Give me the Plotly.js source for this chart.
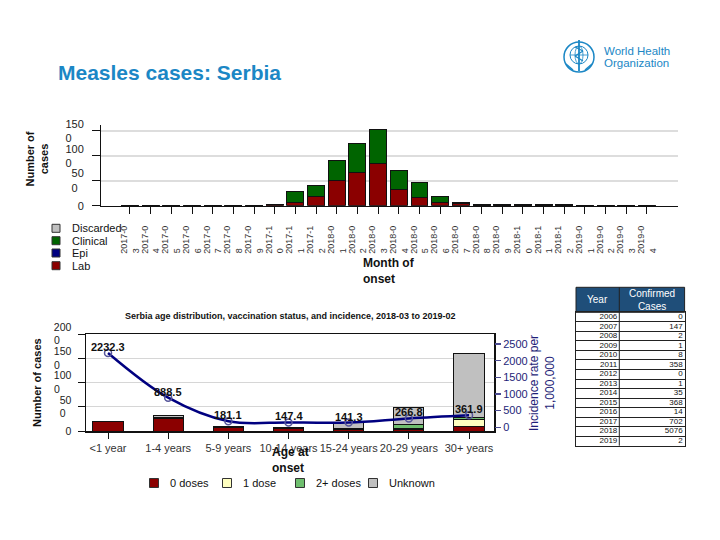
<!DOCTYPE html>
<html>
<head>
<meta charset="utf-8">
<script src="https://cdn.plot.ly/plotly-3.0.1.min.js"></script>
<style>html,body{margin:0;padding:0;background:#fff;}#chart{width:720px;height:540px;}</style>
</head>
<body>
<div id="chart"></div>
<script>
// ---------- DATA ----------
const months = ['2017-03','2017-04','2017-05','2017-06','2017-07','2017-08','2017-09','2017-10','2017-11','2017-12',
  '2018-01','2018-02','2018-03','2018-04','2018-05','2018-06','2018-07','2018-08','2018-09','2018-10','2018-11','2018-12',
  '2019-01','2019-02','2019-03','2019-04'];
const labCases       = [2, 2, 1, 1, 1, 1, 2, 15, 68, 194, 496, 670, 851, 335, 168, 67, 50, 10, 10, 10, 10, 8, 2, 2, 2, 2];
const epiCases       = [0, 0, 0, 0, 0, 0, 0, 0, 0, 0, 0, 0, 0, 0, 0, 0, 0, 0, 0, 0, 0, 0, 0, 0, 0, 0];
const clinicalCases  = [1, 1, 1, 1, 1, 1, 1, 5, 227, 208, 415, 570, 683, 362, 288, 121, 24, 8, 8, 8, 8, 8, 1, 1, 1, 1];
const discardedCases = [0, 0, 0, 0, 0, 0, 0, 0, 0, 0, 0, 0, 0, 0, 0, 0, 0, 0, 0, 0, 0, 0, 0, 0, 0, 0];
const topYTicks      = [0, 500, 1000, 1500];
const topYTickText   = ['0', '50<br>0\u00A0\u00A0', '100<br>0\u00A0\u00A0\u00A0\u00A0', '150<br>0\u00A0\u00A0\u00A0\u00A0'];

const ageGroups    = ['<1 year', '1-4 years', '5-9 years', '10-14 years', '15-24 years', '20-29 years', '30+ years'];
const zeroDoses    = [200, 250, 70, 50, 30, 35, 90];
const oneDose      = [0, 30, 5, 5, 10, 15, 140];
const twoPlusDoses = [0, 5, 5, 5, 20, 80, 55];
const unknownDoses = [0, 40, 10, 15, 120, 346, 1320];
const incidence    = [2232.3, 888.5, 181.1, 147.4, 141.3, 266.8, 361.9];
const botYTicks    = [0, 500, 1000, 1500, 2000];
const botYTickText = ['0', '50<br>0\u00A0\u00A0', '100<br>0\u00A0\u00A0\u00A0\u00A0', '150<br>0\u00A0\u00A0\u00A0\u00A0', '200<br>0\u00A0\u00A0\u00A0\u00A0'];
const incTicks     = [0, 500, 1000, 1500, 2000, 2500];

const tableHeader = ['Year', 'Confirmed<br>Cases'];
const tableYears  = ['2006','2007','2008','2009','2010','2011','2012','2013','2014','2015','2016','2017','2018','2019'];
const tableCases  = [0, 147, 2, 1, 8, 358, 0, 1, 35, 368, 14, 702, 5076, 2];

// ---------- HELPERS ----------
const W = 720, H = 540;
const px = x => x / W;
const py = y => 1 - y / H;
const FONT = 'Liberation Sans, Arial, sans-serif';
const NB = '\u00A0';

const colLab = '#8b0000', colClin = '#006400', colEpi = '#000080', colDisc = '#c0c0c0';
const col0 = '#8b0000', col1 = '#ffffc0', col2 = '#6fbf6f', colU = '#c0c0c0';
const navy = '#1e1e78';
const whoBlue = '#1b87c5';

// table geometry (pixels)
const tL = 576, tM = 619.3, tR = 684.6, tTop = 287.3, tHead = 312.3, tBot = 445.7;

function barTrace(name, x, y, color, xa, ya, width) {
  return {type: 'bar', name: name, x: x, y: y, xaxis: xa, yaxis: ya, width: width,
    marker: {color: color, line: {color: '#111', width: 1}}, showlegend: false, hoverinfo: 'x+y+name'};
}

const traces = [
  barTrace('Lab', months, labCases, colLab, 'x', 'y', 0.82),
  barTrace('Epi', months, epiCases, colEpi, 'x', 'y', 0.82),
  barTrace('Clinical', months, clinicalCases, colClin, 'x', 'y', 0.82),
  barTrace('Discarded', months, discardedCases, colDisc, 'x', 'y', 0.82),
  barTrace('0 doses', ageGroups, zeroDoses, col0, 'x2', 'y2', 0.5),
  barTrace('1 dose', ageGroups, oneDose, col1, 'x2', 'y2', 0.5),
  barTrace('2+ doses', ageGroups, twoPlusDoses, col2, 'x2', 'y2', 0.5),
  barTrace('Unknown', ageGroups, unknownDoses, colU, 'x2', 'y2', 0.5),
  {type: 'scatter', mode: 'lines+markers', name: 'Incidence', x: ageGroups, y: incidence,
    xaxis: 'x2', yaxis: 'y3', showlegend: false, cliponaxis: false,
    line: {color: '#000080', width: 2.5, shape: 'spline', smoothing: 1},
    marker: {size: 7, color: 'rgba(255,255,255,0)', line: {color: '#55559a', width: 1.5}}},
  // table cells: year column and cases column (right-aligned text)
  {type: 'scatter', mode: 'text', x: tableYears.map(() => (tM - tL) - 2), y: tableYears, text: tableYears,
    xaxis: 'x4', yaxis: 'y4', textposition: 'middle left', showlegend: false, hoverinfo: 'skip',
    textfont: {family: FONT, size: 8, color: '#111'}},
  {type: 'scatter', mode: 'text', x: tableYears.map(() => (tR - tL) - 2), y: tableYears, text: tableCases.map(String),
    xaxis: 'x4', yaxis: 'y4', textposition: 'middle left', showlegend: false, hoverinfo: 'skip',
    textfont: {family: FONT, size: 8, color: '#111'}}
];

// ---------- ANNOTATIONS ----------
const ann = [];
function txt(t, x, y, opts) {
  ann.push(Object.assign({text: t, x: px(x), y: py(y), xref: 'paper', yref: 'paper', showarrow: false,
    xanchor: 'center', yanchor: 'middle', font: {family: FONT, size: 11, color: '#111'}}, opts || {}));
}
txt('<b>Number of<br>cases</b>', 36.5, 159, {textangle: -90});
txt('<b>Month of<br>onset</b>', 389, 271, {align: 'left', font: {family: FONT, size: 12, color: '#111'}});
txt('<b>Serbia age distribution, vaccination status, and incidence, 2018-03 to 2019-02</b>', 290, 316, {font: {family: FONT, size: 9, color: '#111'}});
txt('<b>Number of cases</b>', 37, 383, {textangle: -90});
txt('<b>Age at<br>onset</b>', 290, 459.5, {align: 'left', font: {family: FONT, size: 12, color: '#111'}});
txt('Incidence rate per<br>1,000,000', 542, 383, {textangle: -90, font: {family: FONT, size: 12, color: navy}});
txt('World Health', 602, 50.5, {xanchor: 'left', font: {family: FONT, size: 11.5, color: whoBlue}});
txt('Organization', 602, 63.5, {xanchor: 'left', font: {family: FONT, size: 11.5, color: whoBlue}});
// table header
txt(tableHeader[0], (tL + tM) / 2, (tTop + tHead) / 2, {font: {family: FONT, size: 10, color: '#ffffff'}});
txt(tableHeader[1], (tM + tR) / 2, (tTop + tHead) / 2, {align: 'center', font: {family: FONT, size: 10, color: '#ffffff'}});

// incidence labels
incidence.forEach((v, i) => {
  ann.push({text: '<b>' + v.toFixed(1) + '</b>', x: ageGroups[i], y: v, xref: 'x2', yref: 'y3',
    showarrow: false, yshift: 6, font: {family: FONT, size: 11, color: '#111'}});
});

// ---------- SHAPES: legends, table frame, emblem ----------
const shapes = [];
function legItem(label, color, x, y, size) {
  shapes.push({type: 'rect', xref: 'paper', yref: 'paper', x0: px(x - size / 2), x1: px(x + size / 2),
    y0: py(y + size / 2), y1: py(y - size / 2), fillcolor: color, line: {color: '#333', width: 1}});
  txt(label, x + 14, y, {xanchor: 'left'});
}
legItem('Discarded', colDisc, 56, 228.3, 8);
legItem('Clinical', colClin, 56, 240.7, 8);
legItem('Epi', colEpi, 56, 253, 8);
legItem('Lab', colLab, 56, 265.7, 8);
legItem('0 doses', col0, 154, 483, 9);
legItem('1 dose', col1, 227, 483, 9);
legItem('2+ doses', col2, 300, 483, 9);
legItem('Unknown', colU, 373, 483, 9);

// table header box + column divider
shapes.push({type: 'rect', xref: 'paper', yref: 'paper', x0: px(tL), x1: px(tR), y0: py(tHead), y1: py(tTop),
  fillcolor: '#1f4e79', line: {color: '#222', width: 1}, layer: 'below'});
shapes.push({type: 'line', xref: 'paper', yref: 'paper', x0: px(tM), x1: px(tM), y0: py(tBot), y1: py(tTop),
  line: {color: '#222', width: 1}});

function circ(cx, cy, rx, ry, w) {
  shapes.push({type: 'circle', xref: 'paper', yref: 'paper', x0: px(cx - rx), x1: px(cx + rx),
    y0: py(cy + ry), y1: py(cy - ry), line: {color: whoBlue, width: w}, fillcolor: 'rgba(0,0,0,0)'});
}
function seg(x0, y0, x1, y1, w) {
  shapes.push({type: 'line', xref: 'paper', yref: 'paper', x0: px(x0), y0: py(y0), x1: px(x1), y1: py(y1),
    line: {color: whoBlue, width: w}});
}
circ(579, 57, 15, 15, 1.5);
circ(579, 55, 9, 9, 1);
circ(579, 55, 4, 9, 0.8);
seg(570, 55, 588, 55, 0.8);
seg(579, 40, 579, 71, 1.8);
seg(575, 47, 583, 51, 1.2);
seg(583, 51, 575, 56, 1.2);
seg(575, 56, 583, 61, 1.2);
seg(566, 64, 573, 70, 1.5);
seg(592, 64, 585, 70, 1.5);

// ---------- LAYOUT ----------
const axisFont = {family: FONT, size: 11, color: '#222'};
const layout = {
  width: W, height: H, margin: {l: 0, r: 0, t: 0, b: 0},
  paper_bgcolor: '#ffffff', plot_bgcolor: 'rgba(0,0,0,0)',
  barmode: 'stack', showlegend: false,
  font: {family: FONT, size: 11, color: '#222'},
  title: {text: '<b>Measles cases: Serbia</b>', x: px(58), xanchor: 'left', y: py(73), yanchor: 'middle',
    font: {family: FONT, size: 21, color: whoBlue}},
  xaxis: {domain: [px(101), px(678)], anchor: 'y', type: 'category', range: [-1.4, 26.5],
    tickmode: 'array', tickvals: months,
    ticktext: months.map(m => m.slice(0, 6) + '<br>' + m.slice(6) + NB.repeat(9)),
    tickangle: -90, tickfont: {family: FONT, size: 9, color: '#333'}, ticklabelstandoff: 8,
    ticks: 'outside', ticklen: 7, tickcolor: '#111', showline: true, linecolor: '#111', linewidth: 1.5,
    showgrid: false, zeroline: false, fixedrange: true},
  yaxis: {domain: [py(205.7), py(125)], anchor: 'x', range: [0, 1620],
    tickmode: 'array', tickvals: topYTicks, ticktext: topYTickText, tickfont: axisFont, ticklabelstandoff: 6,
    ticks: 'outside', ticklen: 8, tickcolor: '#111', showline: true, linecolor: '#111', linewidth: 1,
    showgrid: true, gridcolor: '#dddddd', gridwidth: 1.5, zeroline: false, fixedrange: true},
  xaxis2: {domain: [px(86), px(494)], anchor: 'y2', type: 'category', range: [-0.366, 6.415],
    tickangle: 0, tickfont: {family: FONT, size: 11, color: '#333'},
    ticks: 'outside', ticklen: 6, tickcolor: '#111', showline: true, mirror: true, linecolor: '#111', linewidth: 1.5,
    showgrid: false, zeroline: false, fixedrange: true},
  yaxis2: {domain: [py(431), py(334)], anchor: 'x2', range: [0, 2000],
    tickmode: 'array', tickvals: botYTicks, ticktext: botYTickText,
    tickfont: {family: FONT, size: 10.5, color: '#222'}, ticklabelstandoff: 4,
    ticks: 'outside', ticklen: 7, tickcolor: '#111', showline: true, mirror: true, linecolor: '#111', linewidth: 1.5,
    showgrid: true, gridcolor: '#d6d6d6', gridwidth: 1, zeroline: false, fixedrange: true},
  yaxis3: {overlaying: 'y2', anchor: 'x2', side: 'right', range: [-111, 2800],
    tickmode: 'array', tickvals: incTicks, tickfont: {family: FONT, size: 11, color: navy},
    ticks: 'outside', ticklen: 6, tickcolor: '#4a4a90', tickwidth: 1.5, showline: false,
    showgrid: false, zeroline: false, fixedrange: true},
  xaxis4: {domain: [px(tL), px(tR)], anchor: 'y4', range: [0, tR - tL],
    showticklabels: false, ticks: '', showgrid: false, zeroline: false,
    showline: true, mirror: true, linecolor: '#222', linewidth: 1, fixedrange: true},
  yaxis4: {domain: [py(tBot), py(tHead)], anchor: 'x4', type: 'category', categoryarray: tableYears,
    range: [tableYears.length - 0.5, -0.5], tickson: 'boundaries', tickmode: 'linear', tick0: 0, dtick: 1,
    showticklabels: false, ticks: '',
    showgrid: true, gridcolor: '#222', gridwidth: 1, zeroline: false,
    showline: true, mirror: true, linecolor: '#222', linewidth: 1, fixedrange: true},
  annotations: ann,
  shapes: shapes
};

Plotly.newPlot('chart', traces, layout, {displayModeBar: false, staticPlot: true});
</script>
</body>
</html>
